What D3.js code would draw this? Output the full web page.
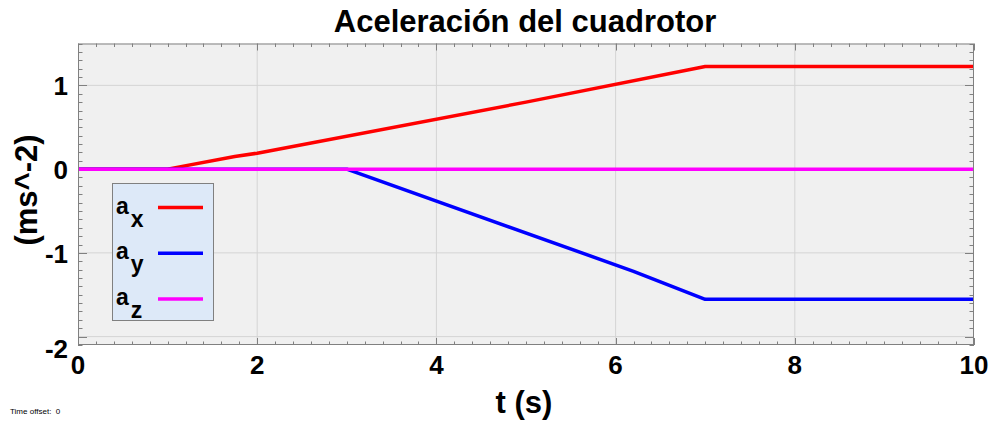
<!DOCTYPE html>
<html><head><meta charset="utf-8">
<script src="https://cdn.jsdelivr.net/npm/d3@7"></script>
<style>body{margin:0;background:#fff;} svg{display:block;font-family:"Liberation Sans",Arial,sans-serif;}</style>
</head><body>
<svg id="c" width="992" height="421"></svg>
<script>
const xTicks = [0, 2, 4, 6, 8, 10];
const yTicks = [-2, -1, 0, 1];
const axT = [0, 1, 1.75, 2, 5, 7, 10];
const axV = [0, 0, 0.15, 0.19, 0.8, 1.225, 1.225];
const ayT = [0, 3, 6.2, 7, 10];
const ayV = [0, 0, -1.22, -1.555, -1.555];
const azT = [0, 10];
const azV = [0, 0];
const seriesNames = ["x", "y", "z"];
const seriesColors = ["#ff0000", "#0000ff", "#ff00ff"];

const svg = d3.select("#c");
const L = 78, R = 974, T = 43.5, B = 345;
const x = d3.scaleLinear().domain([0, 10]).range([L, R]);
const y = d3.scaleLinear().domain([-2.1, 1.5]).range([B, T]);

svg.append("rect").attr("x", L).attr("y", T).attr("width", R - L).attr("height", B - T).attr("fill", "#f0f0f0");

// grid
svg.append("g").selectAll("line").data(xTicks.slice(1, -1)).join("line")
  .attr("x1", d => x(d)).attr("x2", d => x(d)).attr("y1", T).attr("y2", B)
  .attr("stroke", "#d4d4d4").attr("stroke-width", 1);
svg.append("g").selectAll("line").data(yTicks.filter(d => y(d) < B && y(d) > T)).join("line")
  .attr("y1", d => y(d)).attr("y2", d => y(d)).attr("x1", L).attr("x2", R)
  .attr("stroke", "#d4d4d4").attr("stroke-width", 1);

// ticks (inward) on all sides
const xMinor = d3.range(0, 10.001, 0.2);
const yMinor = d3.range(-2.1, 1.5001, 0.1).map(v => Math.round(v * 10) / 10);
const tg = svg.append("g").attr("stroke", "#808080").attr("stroke-width", 1);
xMinor.forEach(v => {
  const major = Math.abs(v / 2 - Math.round(v / 2)) < 1e-6;
  const len = major ? 7 : 3.5;
  const px = Math.round(x(v)) + 0.5;
  tg.append("line").attr("x1", px).attr("x2", px).attr("y1", B).attr("y2", B - len);
  tg.append("line").attr("x1", px).attr("x2", px).attr("y1", T).attr("y2", T + len);
});
yMinor.forEach(v => {
  const major = Math.abs(v - Math.round(v)) < 1e-6;
  const len = major ? 9 : 4.5;
  const py = Math.round(y(v)) + 0.5;
  tg.append("line").attr("y1", py).attr("y2", py).attr("x1", L).attr("x2", L + len);
  tg.append("line").attr("y1", py).attr("y2", py).attr("x1", R).attr("x2", R - len);
});

// lines
const line = d3.line().x(d => x(d[0])).y(d => y(d[1]));
const data = [d3.zip(axT, axV), d3.zip(ayT, ayV), d3.zip(azT, azV)];
svg.append("g").selectAll("path").data(data).join("path")
  .attr("d", line).attr("fill", "none")
  .attr("stroke", (d, i) => seriesColors[i]).attr("stroke-width", 3.5)
  .attr("stroke-linejoin", "round");

// border
svg.append("rect").attr("x", L + 0.5).attr("y", T + 0.5).attr("width", R - L - 1).attr("height", B - T - 1)
  .attr("fill", "none").attr("stroke", "#808080").attr("stroke-width", 1);

// tick labels
svg.append("g").selectAll("text").data(xTicks).join("text")
  .attr("x", d => x(d)).attr("y", 374).attr("text-anchor", "middle")
  .attr("font-size", 26).attr("font-weight", "bold").text(d => d);
svg.append("g").selectAll("text").data(yTicks).join("text")
  .attr("x", 68).attr("y", d => (y(d) + 10 > B ? B + 13 : y(d) + 10)).attr("text-anchor", "end")
  .attr("font-size", 26).attr("font-weight", "bold").text(d => d);

// titles
svg.append("text").attr("x", 525).attr("y", 32).attr("text-anchor", "middle")
  .attr("font-size", 31).attr("font-weight", "bold").text("Aceleración del cuadrotor");
svg.append("text").attr("x", 524).attr("y", 413).attr("text-anchor", "middle")
  .attr("font-size", 31).attr("font-weight", "bold").text("t (s)");
svg.append("text").attr("transform", "translate(37,190) rotate(-90)").attr("text-anchor", "middle")
  .attr("font-size", 31).attr("font-weight", "bold").text("(ms^-2)");
svg.append("text").attr("x", 10).attr("y", 414).attr("font-size", 8).style("white-space", "pre").text("Time offset:  0");

// legend
const lg = svg.append("g");
lg.append("rect").attr("x", 112.5).attr("y", 183.5).attr("width", 101).attr("height", 137)
  .attr("fill", "#dde9f8").attr("stroke", "#808080").attr("stroke-width", 1);
seriesNames.forEach((n, i) => {
  const cy = 207.5 + i * 45.7;
  const t = lg.append("text").attr("x", 116).attr("y", cy + 6).attr("font-size", 23).attr("font-weight", "bold");
  t.append("tspan").text("a");
  t.append("tspan").attr("dy", 13).attr("dx", 2).text(n);
  lg.append("line").attr("x1", 158).attr("x2", 203).attr("y1", cy).attr("y2", cy)
    .attr("stroke", seriesColors[i]).attr("stroke-width", 3.5);
});
</script>
</body></html>
